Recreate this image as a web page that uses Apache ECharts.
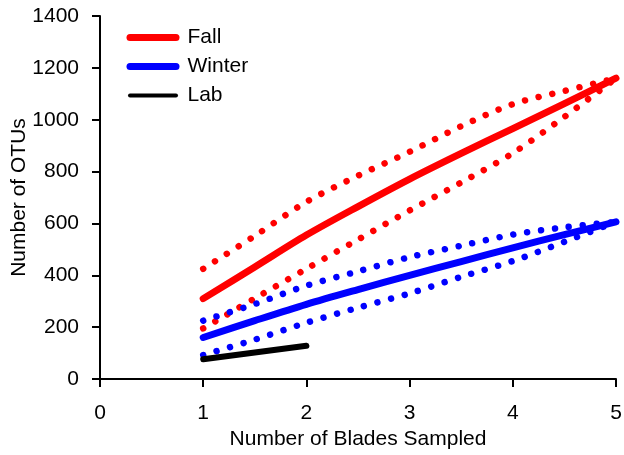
<!DOCTYPE html>
<html>
<head>
<meta charset="utf-8">
<script src="https://cdn.jsdelivr.net/npm/echarts@6/dist/echarts.min.js"></script>
<style>html,body{margin:0;padding:0;background:#fff;}#c{width:624px;height:455px;}</style>
</head>
<body>
<div id="c"></div>
<script>
// Data
const blades = [1, 1.5, 2, 2.5, 3, 3.5, 4, 4.5, 5];
const fallMean  = [310, 432, 555, 665, 771, 870, 966, 1062, 1160];
const fallUpper = [425, 552, 683, 784, 876, 975, 1060, 1111, 1160];
const fallLower = [195, 311, 425, 538, 650, 758, 871, 1011, 1160];
const winterMean  = [160, 225, 288, 345, 400, 453, 506, 557, 606];
const winterUpper = [225, 289, 360, 415, 470, 514, 557, 585, 606];
const winterLower = [92, 152, 217, 275, 330, 394, 455, 529, 606];
const labBlades = [1, 2];
const labMean = [76, 128];
const xTicks = [0, 1, 2, 3, 4, 5];
const yTicks = [0, 200, 400, 600, 800, 1000, 1200, 1400];

const pairs = (xs, ys) => xs.map((x, i) => [x, ys[i]]);
const FONT = "'Liberation Sans', Arial, sans-serif";
const FS = 21;

function solid(name, xs, ys, color, width) {
  return { name, type: 'line', data: pairs(xs, ys), smooth: 0.3, symbol: 'none',
    lineStyle: { color, width, cap: 'round', join: 'round' }, itemStyle: { color }, z: 3 };
}
function dotted(name, xs, ys, color) {
  return { name, type: 'line', data: pairs(xs, ys), smooth: 0.3, symbol: 'none',
    lineStyle: { color, width: 6.5, type: [0.01, 14], cap: 'round' }, itemStyle: { color }, z: 2 };
}

const chart = echarts.init(document.getElementById('c'), null, { renderer: 'canvas' });
chart.setOption({
  backgroundColor: '#ffffff',
  animation: false,
  grid: { left: 100, right: 8, top: 16, bottom: 76, containLabel: false, outerBoundsMode: 'none' },
  legend: {
    orient: 'vertical', left: 121.5, top: 22, itemWidth: 46, itemHeight: 20, itemGap: 8,
    textStyle: { fontFamily: FONT, fontSize: FS, color: '#000', padding: [0, 0, 0, 6.5] },
    data: [
      { name: 'Fall', lineStyle: { width: 7, cap: 'round' }, itemStyle: { opacity: 0 } },
      { name: 'Winter', lineStyle: { width: 7, cap: 'round' }, itemStyle: { opacity: 0 } },
      { name: 'Lab', lineStyle: { width: 4, cap: 'round' }, itemStyle: { opacity: 0 } }
    ]
  },
  xAxis: {
    type: 'value', min: xTicks[0], max: xTicks[xTicks.length - 1], interval: 1,
    name: 'Number of Blades Sampled', nameLocation: 'middle', nameGap: 50, nameMoveOverlap: false,
    nameTextStyle: { fontFamily: FONT, fontSize: FS, color: '#000' },
    axisLine: { show: true, lineStyle: { color: '#000', width: 2 } },
    axisTick: { show: true, inside: false, length: 8, lineStyle: { color: '#000', width: 2 } },
    axisLabel: { fontFamily: FONT, fontSize: FS, color: '#000', margin: 24 },
    splitLine: { show: false }
  },
  yAxis: {
    type: 'value', min: yTicks[0], max: yTicks[yTicks.length - 1], interval: 200,
    name: 'Number of OTUs', nameLocation: 'middle', nameGap: 70, nameMoveOverlap: false,
    nameTextStyle: { fontFamily: FONT, fontSize: FS, color: '#000' },
    axisLine: { show: true, lineStyle: { color: '#000', width: 2 } },
    axisTick: { show: true, inside: false, length: 8, lineStyle: { color: '#000', width: 2 } },
    axisLabel: { fontFamily: FONT, fontSize: FS, color: '#000', margin: 21, formatter: v => String(v) },
    splitLine: { show: false }
  },
  series: [
    dotted('Fall upper', blades, fallUpper, '#ff0000'),
    dotted('Fall lower', blades, fallLower, '#ff0000'),
    dotted('Winter upper', blades, winterUpper, '#0000ff'),
    dotted('Winter lower', blades, winterLower, '#0000ff'),
    solid('Fall', blades, fallMean, '#ff0000', 7),
    solid('Winter', blades, winterMean, '#0000ff', 7),
    solid('Lab', labBlades, labMean, '#000000', 6)
  ]
});
</script>
</body>
</html>
